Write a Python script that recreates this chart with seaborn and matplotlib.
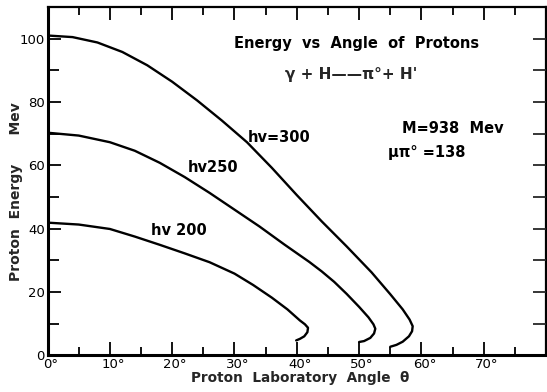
import matplotlib
matplotlib.use("Agg")
import matplotlib.pyplot as plt
import matplotlib.transforms as mtransforms
import seaborn as sns
import pandas as pd
from matplotlib.ticker import FixedLocator

# ---- data ----
angle_300 = [0.0, 4.0, 8.0, 12.0, 16.0, 20.0, 24.0, 28.0, 32.0, 36.0, 40.0, 44.0, 48.0,
             52.0, 55.0, 57.0, 58.1, 58.6, 58.5, 58.0, 57.0, 56.0, 55.0]
energy_300 = [101.0, 100.5, 98.8, 95.8, 91.6, 86.4, 80.5, 74.1, 67.3, 59.2, 50.6, 42.3, 34.4,
              26.2, 19.3, 14.5, 11.3, 9.2, 7.6, 6.0, 4.3, 3.3, 2.7]

angle_250 = [0.0, 5.0, 10.0, 14.0, 18.0, 22.0, 26.0, 30.0, 34.0, 38.0, 42.0, 44.0, 46.0, 48.0,
             50.0, 51.5, 52.3, 52.6, 52.4, 51.8, 50.8, 50.0]
energy_250 = [70.3, 69.4, 67.3, 64.6, 60.8, 56.3, 51.3, 46.0, 40.7, 35.0, 29.5, 26.5, 23.2, 19.4,
              15.3, 12.0, 9.8, 8.4, 6.9, 5.5, 4.5, 4.2]

angle_200 = [0.0, 5.0, 10.0, 14.0, 18.0, 22.0, 26.0, 30.0, 33.0, 36.0, 38.5, 40.5, 41.3,
             41.8, 41.7, 41.2, 40.5, 39.9]
energy_200 = [41.9, 41.3, 39.9, 37.5, 34.9, 32.2, 29.4, 25.8, 22.2, 18.2, 14.5, 11.0, 9.8,
              8.7, 7.3, 6.0, 5.2, 4.7]

curve_labels = ["hv=300", "hv250", "hv 200"]
x_tick_values = [0, 10, 20, 30, 40, 50, 60, 70]
x_tick_labels = ["0°", "10°", "20°", "30°", "40°", "50°", "60°", "70°"]
y_tick_values = [0, 20, 40, 60, 80, 100]

frames = []
for name, a, e in [("300", angle_300, energy_300), ("250", angle_250, energy_250),
                   ("200", angle_200, energy_200)]:
    df = pd.DataFrame({"angle": a, "energy": e})
    df["beam"] = name
    frames.append(df)
data = pd.concat(frames, ignore_index=True)

sns.set_style("ticks")
plt.rcParams["font.family"] = ["DejaVu Sans"]

fig = plt.figure(figsize=(5.47, 3.92), dpi=100)
ax = fig.add_axes([0.087, 0.0936, 0.9112, 0.8885])

sns.lineplot(data=data, x="angle", y="energy", hue="beam", units="beam",
             estimator=None, sort=False, palette=["black"] * 3,
             linewidth=1.7, legend=False, ax=ax)

ax.set_xlim(0, 80)
ax.set_ylim(0, 110)

ax.xaxis.set_major_locator(FixedLocator(x_tick_values))
ax.set_xticklabels(x_tick_labels)
ax.xaxis.set_minor_locator(FixedLocator([5, 15, 25, 35, 45, 55, 65, 75]))
ax.yaxis.set_major_locator(FixedLocator(y_tick_values))
ax.yaxis.set_minor_locator(FixedLocator([10, 30, 50, 70, 90]))

ax.tick_params(axis="both", which="both", direction="in", top=True, right=False,
               labelsize=9.5, colors="black")
ax.tick_params(axis="x", which="major", length=9.5, width=1.3, pad=2)
ax.tick_params(axis="x", which="minor", length=5.5, width=1.3)
ax.tick_params(axis="y", which="major", length=9.5, width=1.3, pad=2)
ax.tick_params(axis="y", which="minor", length=8, width=1.3)

# shift x tick labels so the digits (not the degree sign) sit under the tick
shift = mtransforms.ScaledTranslation(3 / 100, 0, fig.dpi_scale_trans)
for lab in ax.get_xticklabels():
    lab.set_transform(lab.get_transform() + shift)

for side, lw in [("left", 2.2), ("bottom", 2.2), ("top", 1.6), ("right", 1.6)]:
    ax.spines[side].set_linewidth(lw)
    ax.spines[side].set_color("black")

# right side ticks at every 10 (all same length)
axr = ax.twinx()
axr.set_ylim(0, 110)
axr.yaxis.set_major_locator(FixedLocator([10, 20, 30, 40, 50, 60, 70, 80, 90, 100]))
axr.yaxis.set_minor_locator(FixedLocator([]))
axr.tick_params(axis="y", direction="in", length=9.5, width=1.3, labelright=False)
for s in axr.spines.values():
    s.set_visible(False)

ax.set_xlabel("Proton  Laboratory  Angle  θ", fontsize=9.8, fontweight="bold")
ax.xaxis.set_label_coords(0.507, -0.045)
ax.set_ylabel("Proton  Energy      Mev", fontsize=10, fontweight="bold")
ax.yaxis.set_label_coords(-0.05, 0.47)

tkw = dict(fontsize=10.5, fontweight="bold", ha="center", va="center", color="black")
ax.text(37.1, 68.9, curve_labels[0], **tkw)
ax.text(26.5, 59.4, curve_labels[1], **tkw)
ax.text(21.1, 39.5, curve_labels[2], **tkw)
ax.text(49.6, 98.5, "Energy  vs  Angle  of  Protons", **tkw)
ax.text(48.8, 88.6, "γ + H——π°+ H'", fontsize=11, fontweight="bold",
        ha="center", va="center")
ax.text(65.0, 71.7, "M=938  Mev", **tkw)
ax.text(60.8, 64.2, "μπ° =138", **tkw)

fig.savefig("out.png", dpi=100)
